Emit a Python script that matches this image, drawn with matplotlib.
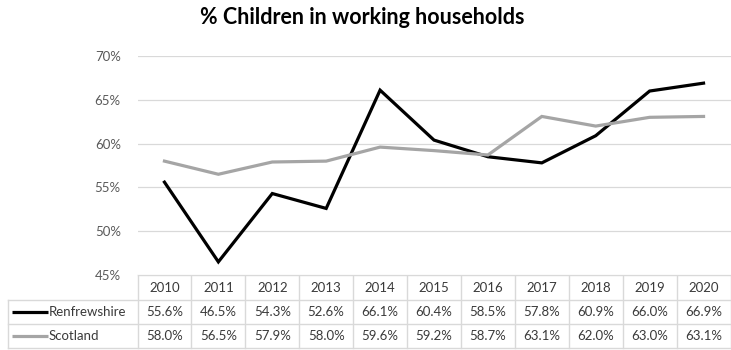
import matplotlib
matplotlib.use("Agg")
import matplotlib.pyplot as plt

# chart data
years = ["2010", "2011", "2012", "2013", "2014", "2015", "2016", "2017", "2018", "2019", "2020"]
renfrewshire = [55.6, 46.5, 54.3, 52.6, 66.1, 60.4, 58.5, 57.8, 60.9, 66.0, 66.9]
scotland = [58.0, 56.5, 57.9, 58.0, 59.6, 59.2, 58.7, 63.1, 62.0, 63.0, 63.1]
series = [("Renfrewshire", renfrewshire, "#000000"),
          ("Scotland", scotland, "#a5a5a5")]
y_ticks = [45, 50, 55, 60, 65, 70]

plt.rcParams["font.family"] = ["Lato", "DejaVu Sans"]

W, H = 731, 350
fig = plt.figure(figsize=(W / 100, H / 100), dpi=100)

# plot area in pixel units
left, right = 137.5, 730.5
top, bottom = 56, 275
row_h = [25, 24, 24]
legend_left = 7.5
grid_col = "#d9d9d9"
text_col = "#3a3a3a"

ax = fig.add_axes([left / W, 1 - bottom / H, (right - left) / W, (bottom - top) / H])
n = len(years)
xs = [i + 0.5 for i in range(n)]
for name, vals, col in series:
    ax.plot(xs, vals, color=col, lw=2.3, solid_joinstyle="miter", zorder=3)
ax.set_xlim(0, n)
ax.set_ylim(45, 70)
ax.set_yticks(y_ticks)
ax.set_yticklabels([f"{t}%" for t in y_ticks])
ax.set_xticks([])
ax.tick_params(axis="y", length=0, pad=12, labelsize=9.5, labelcolor="#595959")
for sp in ax.spines.values():
    sp.set_visible(False)
ax.grid(axis="y", color=grid_col, lw=0.9)
ax.set_axisbelow(True)

# data table underneath, drawn in pixel coordinates
tab = fig.add_axes([0, 0, 1, 1], zorder=-1)
tab.set_xlim(0, W)
tab.set_ylim(H, 0)
tab.axis("off")

col_w = (right - left) / n
y0 = bottom
y1 = y0 + row_h[0]
y2 = y1 + row_h[1]
y3 = y2 + row_h[2]

tab.plot([left, right], [y0, y0], color=grid_col, lw=1)
for y in (y1, y2, y3):
    tab.plot([legend_left, right], [y, y], color=grid_col, lw=1)
tab.plot([legend_left, legend_left], [y1, y3], color=grid_col, lw=1)
for i in range(n + 1):
    x = left + i * col_w
    tab.plot([x, x], [y0, y3], color=grid_col, lw=1)

for i, yr in enumerate(years):
    tab.text(left + (i + 0.5) * col_w, (y0 + y1) / 2, yr, ha="center", va="center",
             fontsize=9.5, color=text_col)

for (name, vals, col), (ya, yb) in zip(series, [(y1, y2), (y2, y3)]):
    yc = (ya + yb) / 2
    tab.plot([12, 48], [yc, yc], color=col, lw=2.3, solid_capstyle="butt")
    tab.text(49, yc, name, ha="left", va="center", fontsize=9.5, color=text_col)
    for i, v in enumerate(vals):
        tab.text(left + (i + 0.5) * col_w, yc, f"{v:.1f}%", ha="center", va="center",
                 fontsize=9.5, color=text_col)

fig.text(362 / W, 1 - 18 / H, "% Children in working households", ha="center", va="center",
         fontsize=15.5, fontweight="bold", color="#000000")

fig.savefig("out.png", dpi=100)
